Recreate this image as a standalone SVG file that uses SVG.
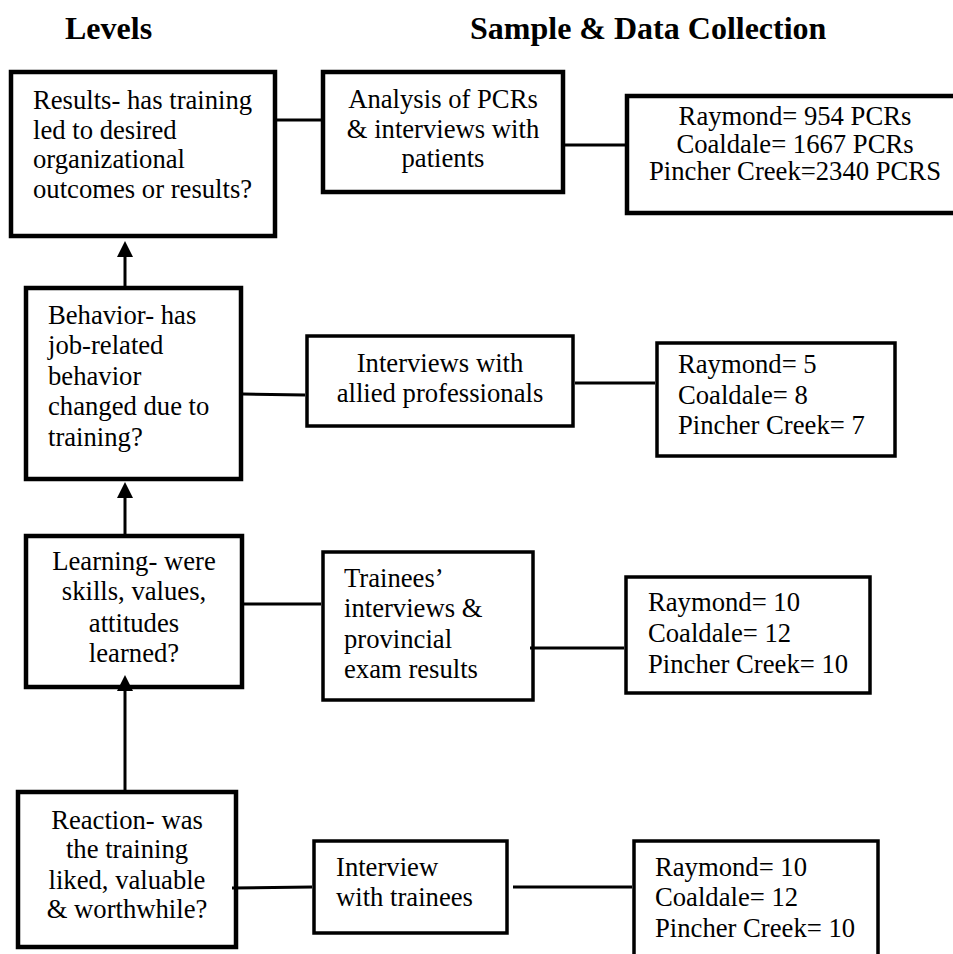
<svg xmlns="http://www.w3.org/2000/svg" width="953" height="954" viewBox="0 0 953 954">
<style>
  .box { fill: #ffffff; stroke: #000000; stroke-width: 3.5; }
  .thick { stroke-width: 4.5; }
  .t { font-family: "Liberation Serif", "Times New Roman", serif; font-size: 26.67px; fill: #000000; }
  .c { text-anchor: middle; }
  .h { font-family: "Liberation Serif", "Times New Roman", serif; font-size: 32px; font-weight: bold; fill: #000000; }
  .conn { stroke: #000000; stroke-width: 3; fill: none; }
</style>
<defs>
  <marker id="arrow" viewBox="0 0 16 16" markerUnits="userSpaceOnUse" markerWidth="16" markerHeight="16" refX="6" refY="8" orient="auto">
    <path d="M0,0 L16,8 L0,16 z" fill="#000000"/>
  </marker>
</defs>
<rect width="953" height="954" fill="#ffffff"/>

<g id="headers">
  <text class="h" x="65" y="39">Levels</text>
  <text class="h" x="470" y="39">Sample &amp; Data Collection</text>
</g>

<g id="results">
  <rect class="box thick" x="11" y="72" width="264" height="164"/>
  <text class="t" x="33" y="109">Results- has training</text>
  <text class="t" x="33" y="139">led to desired</text>
  <text class="t" x="33" y="168">organizational</text>
  <text class="t" x="33" y="198">outcomes or results?</text>
</g>

<g id="analysis">
  <rect class="box thick" x="323" y="72" width="240" height="120"/>
  <text class="t c" x="443" y="108">Analysis of PCRs</text>
  <text class="t c" x="443" y="138">&amp; interviews with</text>
  <text class="t c" x="443" y="167">patients</text>
</g>

<g id="results-sample">
  <rect class="box thick" x="627" y="96" width="340" height="117"/>
  <text class="t c" x="795" y="125">Raymond= 954 PCRs</text>
  <text class="t c" x="795" y="153">Coaldale= 1667 PCRs</text>
  <text class="t c" x="795" y="180">Pincher Creek=2340 PCRS</text>
</g>

<g id="behavior">
  <rect class="box thick" x="26" y="288" width="215" height="191"/>
  <text class="t" x="48" y="324">Behavior- has</text>
  <text class="t" x="48" y="354">job-related</text>
  <text class="t" x="48" y="385">behavior</text>
  <text class="t" x="48" y="415">changed due to</text>
  <text class="t" x="48" y="446">training?</text>
</g>

<g id="interviews-allied">
  <rect class="box" x="307" y="336" width="266" height="90"/>
  <text class="t c" x="440" y="372">Interviews with</text>
  <text class="t c" x="440" y="402">allied professionals</text>
</g>

<g id="behavior-sample">
  <rect class="box" x="657" y="343" width="238" height="113"/>
  <text class="t" x="678" y="373">Raymond= 5</text>
  <text class="t" x="678" y="404">Coaldale= 8</text>
  <text class="t" x="678" y="434">Pincher Creek= 7</text>
</g>

<g id="learning">
  <rect class="box thick" x="26" y="536" width="216" height="151"/>
  <text class="t c" x="134" y="570">Learning- were</text>
  <text class="t c" x="134" y="600">skills, values,</text>
  <text class="t c" x="134" y="632">attitudes</text>
  <text class="t c" x="134" y="662">learned?</text>
</g>

<g id="trainees-exam">
  <rect class="box" x="323" y="552" width="210" height="148"/>
  <text class="t" x="344" y="587">Trainees’</text>
  <text class="t" x="344" y="617">interviews &amp;</text>
  <text class="t" x="344" y="648">provincial</text>
  <text class="t" x="344" y="678">exam results</text>
</g>

<g id="learning-sample">
  <rect class="box" x="626" y="577" width="244" height="116"/>
  <text class="t" x="648" y="611">Raymond= 10</text>
  <text class="t" x="648" y="642">Coaldale= 12</text>
  <text class="t" x="648" y="673">Pincher Creek= 10</text>
</g>

<g id="reaction">
  <rect class="box thick" x="18" y="792" width="218" height="155"/>
  <text class="t c" x="127" y="829">Reaction- was</text>
  <text class="t c" x="127" y="858">the training</text>
  <text class="t c" x="127" y="889">liked, valuable</text>
  <text class="t c" x="127" y="918">&amp; worthwhile?</text>
</g>

<g id="interview-trainees">
  <rect class="box" x="314" y="841" width="193" height="92"/>
  <text class="t" x="336" y="876">Interview</text>
  <text class="t" x="336" y="906">with trainees</text>
</g>

<g id="reaction-sample">
  <rect class="box" x="634" y="841" width="244" height="130"/>
  <text class="t" x="655" y="876">Raymond= 10</text>
  <text class="t" x="655" y="906">Coaldale= 12</text>
  <text class="t" x="655" y="937">Pincher Creek= 10</text>
</g>

<g id="connectors">
  <line class="conn" x1="277" y1="120" x2="321" y2="120"/>
  <line class="conn" x1="565" y1="145" x2="625" y2="145"/>
  <line class="conn" x1="243" y1="394" x2="305" y2="395"/>
  <line class="conn" x1="575" y1="383" x2="655" y2="383"/>
  <line class="conn" x1="244" y1="604" x2="321" y2="604"/>
  <line class="conn" x1="530" y1="648" x2="624" y2="648"/>
  <line class="conn" x1="232" y1="888" x2="312" y2="887"/>
  <line class="conn" x1="513" y1="887" x2="632" y2="887"/>
  <line class="conn" x1="125" y1="286" x2="125" y2="251" marker-end="url(#arrow)"/>
  <line class="conn" x1="125" y1="534" x2="125" y2="492" marker-end="url(#arrow)"/>
  <line class="conn" x1="125" y1="790" x2="125" y2="685" marker-end="url(#arrow)"/>
</g>
</svg>
